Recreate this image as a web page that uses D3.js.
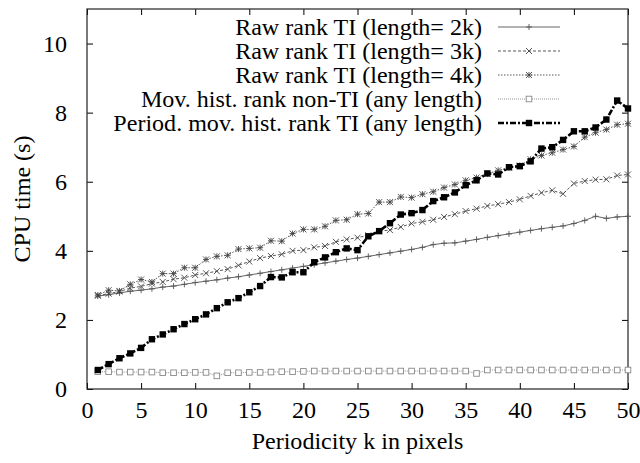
<!DOCTYPE html>
<html>
<head>
<meta charset="utf-8">
<script src="https://cdn.jsdelivr.net/npm/d3@7"></script>
<style>
  html, body { margin: 0; padding: 0; background: #fff; }
</style>
</head>
<body>
<svg id="chart" width="640" height="463"></svg>
<script>
// Periodicity k (pixels) for every measured point
const periods = d3.range(1, 51);

// CPU time in seconds, one array per method
const rawRank2k = [2.69, 2.73, 2.78, 2.83, 2.86, 2.90, 2.95, 2.98, 3.03, 3.08,
  3.12, 3.16, 3.21, 3.25, 3.30, 3.35, 3.40, 3.45, 3.50, 3.55,
  3.60, 3.65, 3.70, 3.75, 3.79, 3.84, 3.89, 3.94, 3.99, 4.04,
  4.10, 4.18, 4.22, 4.23, 4.28, 4.33, 4.39, 4.44, 4.49, 4.54,
  4.59, 4.64, 4.68, 4.72, 4.79, 4.88, 5.00, 4.94, 4.98, 5.00];

const rawRank3k = [2.70, 2.76, 2.82, 2.92, 2.97, 3.05, 3.10, 3.18, 3.22, 3.30,
  3.35, 3.41, 3.47, 3.58, 3.69, 3.79, 3.85, 3.90, 4.00, 4.02,
  4.10, 4.14, 4.26, 4.33, 4.38, 4.45, 4.57, 4.60, 4.69, 4.79,
  4.84, 4.90, 4.98, 5.06, 5.15, 5.22, 5.30, 5.35, 5.41, 5.49,
  5.59, 5.68, 5.75, 5.65, 5.95, 6.02, 6.06, 6.07, 6.18, 6.21];

const rawRank4k = [2.72, 2.86, 2.84, 3.03, 3.17, 3.10, 3.34, 3.34, 3.51, 3.51,
  3.75, 3.84, 3.87, 4.05, 4.07, 4.09, 4.29, 4.28, 4.50, 4.62,
  4.62, 4.71, 4.88, 4.90, 5.06, 5.08, 5.41, 5.41, 5.56, 5.54,
  5.64, 5.71, 5.83, 5.92, 6.04, 6.12, 6.23, 6.33, 6.41, 6.47,
  6.65, 6.76, 6.84, 6.93, 7.02, 7.29, 7.42, 7.51, 7.65, 7.68];

const movHistNonTI = [0.50, 0.50, 0.49, 0.49, 0.49, 0.49, 0.47, 0.47, 0.47, 0.48,
  0.48, 0.38, 0.47, 0.47, 0.48, 0.48, 0.49, 0.50, 0.50, 0.51,
  0.52, 0.52, 0.52, 0.52, 0.52, 0.52, 0.52, 0.52, 0.52, 0.52,
  0.52, 0.52, 0.52, 0.52, 0.52, 0.45, 0.55, 0.55, 0.55, 0.55,
  0.55, 0.55, 0.55, 0.55, 0.55, 0.55, 0.55, 0.55, 0.55, 0.55];

const periodMovHistTI = [0.55, 0.72, 0.89, 1.03, 1.19, 1.44, 1.58, 1.73, 1.88, 2.02,
  2.16, 2.34, 2.51, 2.63, 2.80, 2.98, 3.24, 3.23, 3.38, 3.38,
  3.67, 3.81, 3.96, 4.07, 4.02, 4.42, 4.57, 4.80, 5.05, 5.09,
  5.18, 5.44, 5.55, 5.69, 5.90, 6.04, 6.24, 6.21, 6.42, 6.45,
  6.59, 6.96, 7.00, 7.21, 7.46, 7.46, 7.57, 7.80, 8.35, 8.12];

const seriesNames = [
  "Raw rank TI (length= 2k)",
  "Raw rank TI (length= 3k)",
  "Raw rank TI (length= 4k)",
  "Mov. hist. rank non-TI (any length)",
  "Period. mov. hist. rank TI (any length)"
];

const xTickValues = d3.range(0, 51, 5);
const yTickValues = d3.range(0, 11, 2);

// Drawing style per series: line colour, width, dash pattern and marker kind
const styles = [
  { color: "#555", width: 0.9, dash: null,  marker: "plus" },
  { color: "#444", width: 0.9, dash: "3,2", marker: "cross" },
  { color: "#444", width: 0.9, dash: "1.5,1.5", marker: "star" },
  { color: "#888", width: 0.9, dash: "1,1", marker: "openSquare" },
  { color: "#000", width: 2.6, dash: "6,2,2,2", marker: "filledSquare" }
];

const seriesValues = [rawRank2k, rawRank3k, rawRank4k, movHistNonTI, periodMovHistTI];

const svg = d3.select("#chart");

// Pick the first installed serif face; fall back through Times-metric fonts
const fontCandidates = ["Liberation Serif", "Tinos", "Times New Roman", "Nimbus Roman",
  "Nimbus Roman No9 L", "FreeSerif", "DejaVu Serif", "Noto Serif"];
function measure(family, size, txt) {
  const t = svg.append("text").attr("font-family", family).attr("font-size", size).text(txt);
  const w = t.node().getComputedTextLength();
  t.remove();
  return w;
}
const probe = "Raw rank TI (length= 2k) mmmiiilll";
const baseW = measure("monospace", 24, probe);
let serif = "serif";
for (const f of fontCandidates) {
  const w = measure(`'${f}', monospace`, 24, probe);
  if (Math.abs(w - baseW) > 0.5) { serif = `'${f}', serif`; break; }
}
svg.attr("font-family", serif);

// Scale the type so the first legend label spans about 247px
const fontSize = Math.max(18, Math.min(26, 24 * 247 / measure(serif, 24, seriesNames[0])));

const plotLeft = 87, plotRight = 628, plotTop = 9, plotBottom = 389;

const x = d3.scaleLinear().domain([0, 50]).range([plotLeft, plotRight]);
const y = d3.scaleLinear().domain([0, 11]).range([plotBottom, plotTop]);

// Axes with inward ticks, mirrored on top and right
const tickLen = 6;
svg.append("g")
  .attr("transform", `translate(0,${plotBottom})`)
  .call(d3.axisBottom(x).tickValues(xTickValues).tickSize(-tickLen).tickPadding(12).tickFormat(d3.format("d")))
  .attr("font-family", serif).attr("font-size", fontSize)
  .call(g => g.select(".domain").remove())
  .call(g => g.selectAll("text").attr("fill", "#000"));

svg.append("g")
  .attr("transform", `translate(0,${plotTop})`)
  .call(d3.axisTop(x).tickValues(xTickValues).tickSize(-tickLen).tickFormat(""))
  .call(g => g.select(".domain").remove());

svg.append("g")
  .attr("transform", `translate(${plotLeft},0)`)
  .call(d3.axisLeft(y).tickValues(yTickValues).tickSize(-tickLen).tickPadding(20).tickFormat(d3.format("d")))
  .attr("font-family", serif).attr("font-size", fontSize)
  .call(g => g.select(".domain").remove())
  .call(g => g.selectAll("text").attr("fill", "#000"));

svg.append("g")
  .attr("transform", `translate(${plotRight},0)`)
  .call(d3.axisRight(y).tickValues(yTickValues).tickSize(-tickLen).tickFormat(""))
  .call(g => g.select(".domain").remove());

svg.selectAll(".tick line").attr("stroke", "#000").attr("stroke-width", 1);

// Plot frame
svg.append("rect")
  .attr("x", plotLeft).attr("y", plotTop)
  .attr("width", plotRight - plotLeft).attr("height", plotBottom - plotTop)
  .attr("fill", "none").attr("stroke", "#222").attr("stroke-width", 1.2);

// Axis titles
svg.append("text")
  .attr("x", (plotLeft + plotRight) / 2).attr("y", 449)
  .attr("text-anchor", "middle").attr("font-size", fontSize)
  .text("Periodicity k in pixels");

svg.append("text")
  .attr("transform", `translate(30,${(plotTop + plotBottom) / 2}) rotate(-90)`)
  .attr("text-anchor", "middle").attr("font-size", fontSize)
  .text("CPU time (s)");

// Marker shapes
function drawMarker(g, kind, cx, cy, color) {
  const s = 3;
  if (kind === "plus") {
    g.append("path").attr("d", `M${cx - s},${cy}H${cx + s}M${cx},${cy - s}V${cy + s}`)
      .attr("stroke", color).attr("stroke-width", 0.9).attr("fill", "none");
  } else if (kind === "cross") {
    g.append("path").attr("d", `M${cx - s},${cy - s}L${cx + s},${cy + s}M${cx - s},${cy + s}L${cx + s},${cy - s}`)
      .attr("stroke", color).attr("stroke-width", 0.9).attr("fill", "none");
  } else if (kind === "star") {
    g.append("path").attr("d", `M${cx - s},${cy}H${cx + s}M${cx},${cy - s}V${cy + s}M${cx - s},${cy - s}L${cx + s},${cy + s}M${cx - s},${cy + s}L${cx + s},${cy - s}`)
      .attr("stroke", color).attr("stroke-width", 0.9).attr("fill", "none");
  } else if (kind === "openSquare") {
    g.append("rect").attr("x", cx - 2.8).attr("y", cy - 2.8).attr("width", 5.6).attr("height", 5.6)
      .attr("stroke", color).attr("stroke-width", 0.9).attr("fill", "#fff");
  } else {
    g.append("rect").attr("x", cx - 3.2).attr("y", cy - 3.2).attr("width", 6.4).attr("height", 6.4)
      .attr("fill", color);
  }
}

const line = d3.line().x((d, i) => x(periods[i])).y(d => y(d));

seriesValues.forEach((vals, si) => {
  const st = styles[si];
  const g = svg.append("g");
  g.append("path")
    .datum(vals)
    .attr("d", line)
    .attr("fill", "none")
    .attr("stroke", st.color)
    .attr("stroke-width", st.width)
    .attr("stroke-dasharray", st.dash);
  vals.forEach((v, i) => drawMarker(g, st.marker, x(periods[i]), y(v), st.color));
});

// Legend, right-aligned labels with line samples
const legend = svg.append("g");
seriesNames.forEach((name, i) => {
  const st = styles[i];
  const ly = 27 + i * 24;
  legend.append("text")
    .attr("x", 482).attr("y", ly).attr("dy", "0.35em")
    .attr("text-anchor", "end").attr("font-size", fontSize)
    .text(name);
  legend.append("line")
    .attr("x1", 498).attr("x2", 560).attr("y1", ly).attr("y2", ly)
    .attr("stroke", st.color).attr("stroke-width", st.width)
    .attr("stroke-dasharray", st.dash);
  drawMarker(legend, st.marker, 529, ly, st.color);
});
</script>
</body>
</html>
